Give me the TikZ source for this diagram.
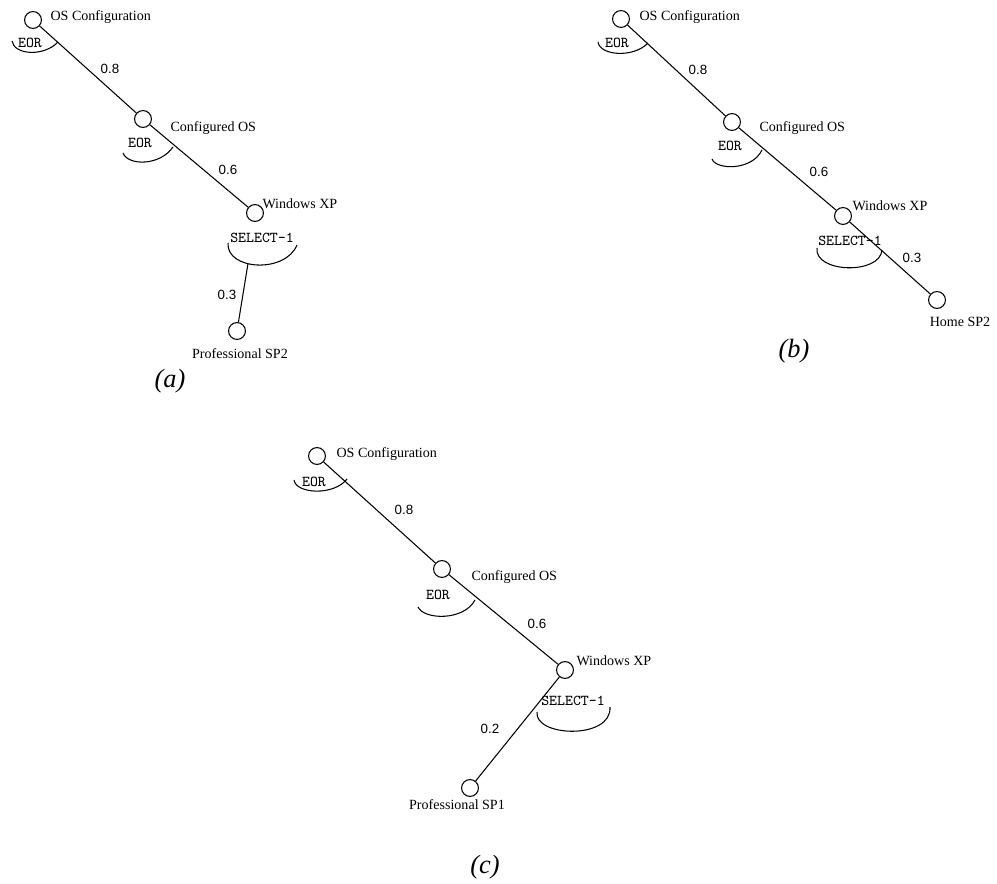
\documentclass[tikz,border=0pt]{standalone}
\usepackage{fontspec}
\setmainfont{Liberation Serif}
\newfontfamily\numfont{Liberation Sans}

\begin{document}
\begin{tikzpicture}[x=0.02cm, y=-0.02cm, line width=0.6pt,
	state/.style={circle, draw, minimum size=9.6pt, inner sep=0pt},
	lbl/.style={font=\fontsize{8}{9}\selectfont, inner sep=0pt},
	gate/.style={font=\ttfamily\fontsize{8.6}{10}\selectfont, inner sep=0pt},
	weight/.style={font=\numfont\fontsize{7.6}{9}\selectfont, inner sep=0pt},
	panel/.style={font=\itshape\fontsize{15}{18}\selectfont, inner sep=0pt}]
	\useasboundingbox (0,0) rectangle (997,884);

	% (a) select Professional SP2
	\node[state] (osA) at (33,20) {};
	\node[state] (cfgA) at (143,119) {};
	\node[state] (winA) at (255,213) {};
	\node[state] (proA) at (237,331) {};

	\draw (osA)--(cfgA);
	\draw (cfgA)--(winA);
	\draw (12,41) .. controls (14,55) and (44,57) .. (58,42);
	\draw (123,153) .. controls (128,166) and (160,166) .. (173,147);
	\draw (228,243) .. controls (226,270) and (285,274) .. (297,245) coordinate[pos=0.4] (selA);
	\draw (selA)--(proA);

	\node[lbl, anchor=west] (osAl) at (50,17) {OS Configuration};
	\node[gate] (eorA1) at (30,43) {EOR};
	\node[weight] (wA1) at (110,69) {0.8};
	\node[lbl, anchor=west] (cfgAl) at (170,128) {Configured OS};
	\node[gate] (eorA2) at (140,143) {EOR};
	\node[weight] (wA2) at (228,170) {0.6};
	\node[lbl, anchor=west] (winAl) at (262,204) {Windows XP};
	\node[gate] (selAl) at (262,238) {SELECT-1};
	\node[weight] (wA3) at (227,295) {0.3};
	\node[lbl] (proAl) at (240,354) {Professional SP2};
	\node[panel] (capA) at (170,381) {(a)};

	% (b) select Home SP2
	\node[state] (osB) at (621,19) {};
	\node[state] (cfgB) at (732,122) {};
	\node[state] (winB) at (843,216) {};
	\node[state] (homeB) at (937,300) {};

	\draw (osB)--(cfgB);
	\draw (cfgB)--(winB);
	\draw (winB)--(homeB);
	\draw (598,42) .. controls (600,56) and (634,58) .. (648,43);
	\draw (712,159) .. controls (716,170) and (752,171) .. (762,150);
	\draw (817,248) .. controls (814,273) and (880,275) .. (882,250);

	\node[lbl, anchor=west] (osBl) at (639,17) {OS Configuration};
	\node[gate] (eorB1) at (617,43) {EOR};
	\node[weight] (wB1) at (698,70) {0.8};
	\node[lbl, anchor=west] (cfgBl) at (759,128) {Configured OS};
	\node[gate] (eorB2) at (730,146) {EOR};
	\node[weight] (wB2) at (819,172) {0.6};
	\node[lbl, anchor=west] (winBl) at (852,206) {Windows XP};
	\node[gate] (selBl) at (850,241) {SELECT-1};
	\node[weight] (wB3) at (912,258) {0.3};
	\node[lbl] (homeBl) at (960,322) {Home SP2};
	\node[panel] (capB) at (794,351) {(b)};

	% (c) select Professional SP1
	\node[state] (osC) at (317,456) {};
	\node[state] (cfgC) at (442,569) {};
	\node[state] (winC) at (565,670) {};
	\node[state] (proC) at (470,788) {};

	\draw (osC)--(cfgC);
	\draw (cfgC)--(winC);
	\draw (winC)--(proC);
	\draw (294,480) .. controls (296,494) and (334,496) .. (347,479);
	\draw (418,607) .. controls (424,620) and (464,621) .. (475,600);
	\draw (537,712) .. controls (534,737) and (612,740) .. (610,707);

	\node[lbl, anchor=west] (osCl) at (336,454) {OS Configuration};
	\node[gate] (eorC1) at (314,482) {EOR};
	\node[weight] (wC1) at (404,510) {0.8};
	\node[lbl, anchor=west] (cfgCl) at (471,577) {Configured OS};
	\node[gate] (eorC2) at (438,595) {EOR};
	\node[weight] (wC2) at (537,624) {0.6};
	\node[lbl, anchor=west] (winCl) at (576,661) {Windows XP};
	\node[gate] (selCl) at (573,701) {SELECT-1};
	\node[weight] (wC3) at (490,729) {0.2};
	\node[lbl] (proCl) at (457,805) {Professional SP1};
	\node[panel] (capC) at (485,867) {(c)};

\end{tikzpicture}
\end{document}
